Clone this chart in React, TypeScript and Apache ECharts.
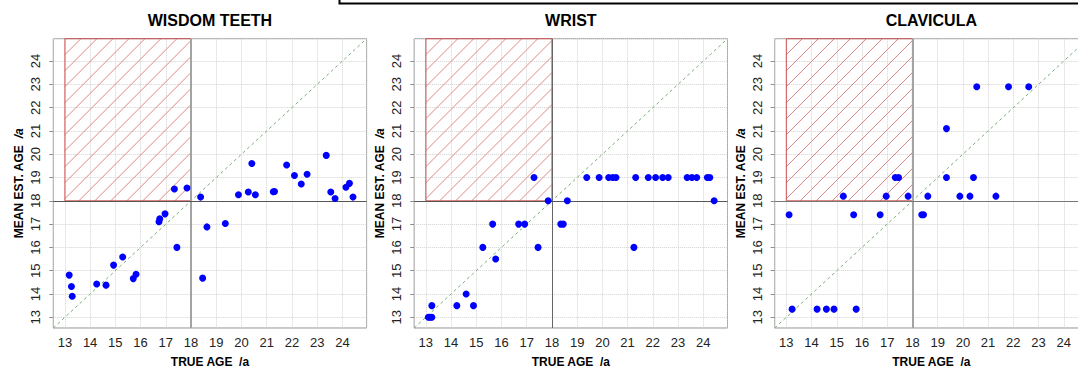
import React, { useEffect, useRef } from 'react';
import * as echarts from 'echarts';

// ---- data ----
const AXIS_MIN = 12.54;
const AXIS_MAX = 24.96;
const THRESHOLD = 18;
const HATCH_X = [13, 18];
const PANEL_TITLES = ['WISDOM TEETH', 'WRIST', 'CLAVICULA'];
const X_NAME = 'TRUE AGE  /a';
const Y_NAME_MAIN = 'MEAN EST. AGE  ';
const UNIT = '/a';

const wisdomTrue = [13.17, 13.26, 13.29, 14.26, 14.63, 14.93, 15.29, 15.71, 15.82, 16.73, 16.76, 16.97, 17.34, 17.44, 17.84, 18.38, 18.46, 18.63, 19.36, 19.88, 20.27, 20.41, 20.55, 21.26, 21.31, 21.79, 22.1, 22.37, 22.6, 23.36, 23.54, 23.71, 24.14, 24.28, 24.42];
const wisdomEst = [14.81, 14.32, 13.9, 14.43, 14.38, 15.24, 15.59, 14.66, 14.85, 17.1, 17.23, 17.44, 18.51, 16.0, 18.55, 18.16, 14.68, 16.88, 17.03, 18.26, 18.38, 19.6, 18.26, 18.39, 18.4, 19.54, 19.09, 18.72, 19.14, 19.95, 18.38, 18.1, 18.58, 18.75, 18.16];

const wristTrue = [13.1, 13.17, 13.24, 13.24, 14.23, 14.6, 14.89, 15.26, 15.65, 15.77, 16.68, 16.92, 17.29, 17.45, 17.85, 18.35, 18.45, 18.61, 19.38, 19.87, 20.25, 20.41, 20.54, 21.25, 21.32, 21.82, 22.11, 22.39, 22.61, 23.36, 23.55, 23.74, 24.16, 24.26, 24.43];
const wristEst = [13, 13, 13, 13.5, 13.5, 14, 13.5, 16, 17, 15.5, 17, 17, 19, 16, 18, 17, 17, 18, 19, 19, 19, 19, 19, 16, 19, 19, 19, 19, 19, 19, 19, 19, 19, 19, 18];

const clavTrue = [13.11, 13.23, 14.22, 14.59, 14.89, 15.26, 15.67, 15.77, 16.72, 16.96, 17.32, 17.45, 17.83, 18.37, 18.44, 18.61, 19.35, 19.35, 19.88, 20.28, 20.42, 20.55, 21.31, 21.81, 22.61];
const clavEst = [17.4, 13.35, 13.35, 13.35, 13.35, 18.2, 17.4, 13.35, 17.4, 18.2, 19, 19, 18.2, 17.4, 17.4, 18.2, 21.1, 19, 18.2, 18.2, 19, 22.9, 18.2, 22.9, 22.9];

const PANELS = [
  { xs: wisdomTrue, ys: wisdomEst },
  { xs: wristTrue, ys: wristEst },
  { xs: clavTrue, ys: clavEst },
];

// ---- layout / style ----
const GRID_LEFTS = [53.3, 414.2, 774.7];
const GRID_TOP = 38.7;
const GRID_W = 313.3;
const GRID_H = 289.3;
const FONT = '"Liberation Sans", Arial, Helvetica, sans-serif';
const HATCH_COLOR = '#df8686';
const HATCH_BORDER = '#cc4f4f';
const HATCH_STEP = 16;
const VLINE_STYLE = [
  { color: '#a3a3a3', width: 2 },
  { color: '#666666', width: 1 },
  { color: '#a3a3a3', width: 2 },
];
const HLINE_STYLE = [
  { color: '#555555', width: 1 },
  { color: '#555555', width: 1 },
  { color: '#777777', width: 1 },
];

function intLabel(v: number) {
  return Math.abs(v - Math.round(v)) < 1e-6 ? String(Math.round(v)) : '';
}

function staticGraphics(): any[] {
  const g: any[] = PANEL_TITLES.map((t, i) => ({
    type: 'text',
    x: GRID_LEFTS[i] + GRID_W / 2,
    y: 20.5,
    style: {
      text: t,
      font: `bold 16px ${FONT}`,
      fill: '#000',
      textAlign: 'center',
      textVerticalAlign: 'middle',
    },
  }));
  g.push({
    type: 'rect',
    shape: { x: 339.5, y: -30, width: 800, height: 33.5 },
    style: { fill: 'none', stroke: '#000', lineWidth: 2 },
  });
  return g;
}

function hatchGraphics(chart: any): any[] {
  const out: any[] = [];
  PANEL_TITLES.forEach((_, i) => {
    const p0 = chart.convertToPixel({ gridIndex: i }, [HATCH_X[0], THRESHOLD]);
    const p1 = chart.convertToPixel({ gridIndex: i }, [HATCH_X[1], AXIS_MAX]);
    if (!p0 || !p1) return;
    const x0 = p0[0];
    const y1 = p0[1];
    const x1 = p1[0];
    const y0 = p1[1];
    for (let c = x0 + y0 + HATCH_STEP; c < x1 + y1; c += HATCH_STEP) {
      const sx = Math.max(x0, c - y1);
      const ex = Math.min(x1, c - y0);
      if (ex > sx) {
        out.push({
          type: 'line',
          z: 1,
          silent: true,
          shape: { x1: sx, y1: c - sx, x2: ex, y2: c - ex },
          style: { stroke: HATCH_COLOR, lineWidth: 1 },
        });
      }
    }
    out.push({
      type: 'rect',
      z: 1,
      silent: true,
      shape: { x: x0, y: y0, width: x1 - x0, height: y1 - y0 },
      style: { fill: 'none', stroke: HATCH_BORDER, lineWidth: 1 },
    });
  });
  return out;
}

function buildOption(): any {
  const grid: any[] = [];
  const xAxis: any[] = [];
  const yAxis: any[] = [];
  const series: any[] = [];

  PANELS.forEach((p, i) => {
    grid.push({
      left: GRID_LEFTS[i],
      top: GRID_TOP,
      width: GRID_W,
      height: GRID_H,
      show: true,
      borderColor: '#8e8e8e',
      borderWidth: 1,
      backgroundColor: 'transparent',
      containLabel: false,
      outerBoundsMode: 'none',
    });
    xAxis.push({
      gridIndex: i,
      type: 'value',
      min: AXIS_MIN,
      max: AXIS_MAX,
      splitNumber: 12,
      name: X_NAME,
      nameLocation: 'middle',
      nameGap: 27.5,
      nameTextStyle: { fontFamily: FONT, fontWeight: 'bold', fontSize: 12, color: '#000' },
      axisLine: { show: false },
      axisTick: { show: false },
      axisLabel: {
        formatter: intLabel,
        showMinLabel: false,
        showMaxLabel: false,
        margin: 8,
        fontFamily: FONT,
        fontSize: 13,
        color: '#222',
      },
      splitLine: { show: true, lineStyle: { color: '#d2d2d2', type: 'dotted', width: 1 } },
    });
    yAxis.push({
      gridIndex: i,
      type: 'value',
      min: AXIS_MIN,
      max: AXIS_MAX,
      splitNumber: 12,
      name: `{m|${Y_NAME_MAIN}}{u|${UNIT}}`,
      nameLocation: 'middle',
      nameRotate: 90,
      nameGap: 28,
      nameTextStyle: {
        fontFamily: FONT,
        fontWeight: 'bold',
        fontSize: 12,
        color: '#000',
        rich: {
          m: { fontFamily: FONT, fontWeight: 'bold', fontSize: 12, color: '#000' },
          u: { fontFamily: FONT, fontWeight: 'bold', fontStyle: 'italic', fontSize: 12, color: '#000' },
        },
      },
      axisLine: { show: false },
      axisTick: { show: true, length: 4, lineStyle: { color: '#8e8e8e' } },
      axisLabel: {
        formatter: intLabel,
        showMinLabel: false,
        showMaxLabel: false,
        rotate: 90,
        margin: 11,
        fontFamily: FONT,
        fontSize: 13,
        color: '#222',
      },
      splitLine: { show: true, lineStyle: { color: '#d2d2d2', type: 'dotted', width: 1 } },
    });

    series.push({
      type: 'line',
      xAxisIndex: i,
      yAxisIndex: i,
      z: 2,
      silent: true,
      showSymbol: false,
      itemStyle: { color: '#78ad78' },
      data: [
        [AXIS_MIN, AXIS_MIN],
        [AXIS_MAX, AXIS_MAX],
      ],
      lineStyle: { color: '#78ad78', width: 1, type: [3, 3] },
      markLine: {
        silent: true,
        symbol: ['none', 'none'],
        label: { show: false },
        data: [
          { xAxis: THRESHOLD, lineStyle: { color: VLINE_STYLE[i].color, width: VLINE_STYLE[i].width, type: 'solid' } },
          { yAxis: THRESHOLD, lineStyle: { color: HLINE_STYLE[i].color, width: HLINE_STYLE[i].width, type: 'solid' } },
        ],
      },
    });

    series.push({
      type: 'scatter',
      xAxisIndex: i,
      yAxisIndex: i,
      z: 5,
      symbol: 'circle',
      symbolSize: 7,
      itemStyle: { color: '#0000ff', opacity: 1 },
      data: p.xs.map((x, k) => [x, p.ys[k]]),
    });
  });

  return {
    animation: false,
    backgroundColor: '#ffffff',
    textStyle: { fontFamily: FONT },
    grid,
    xAxis,
    yAxis,
    series,
    graphic: staticGraphics(),
  };
}

export default function App() {
  const ref = useRef<HTMLDivElement>(null);
  useEffect(() => {
    if (!ref.current) return;
    const chart = echarts.init(ref.current, null, { renderer: 'svg' });
    chart.setOption(buildOption());
    chart.setOption({ graphic: [...staticGraphics(), ...hatchGraphics(chart)] });
    return () => chart.dispose();
  }, []);
  return (
    <div
      ref={ref}
      style={{ position: 'absolute', left: 0, top: 0, width: 1078, height: 368 }}
    />
  );
}
